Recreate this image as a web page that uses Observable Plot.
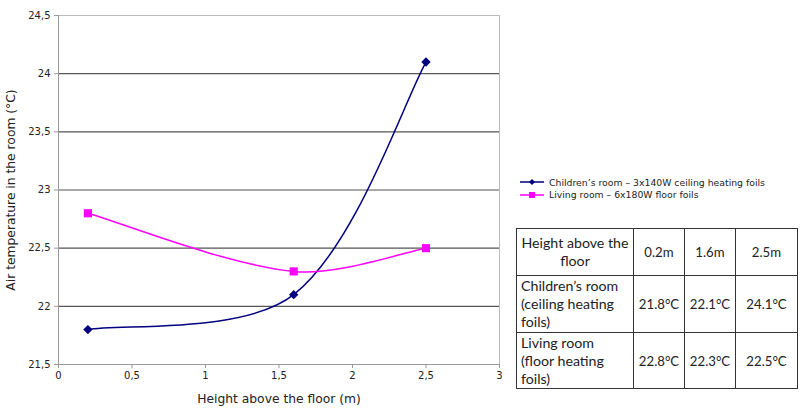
<!DOCTYPE html>
<html>
<head>
<meta charset="utf-8">
<script src="https://cdn.jsdelivr.net/npm/d3@7"></script>
<script src="https://cdn.jsdelivr.net/npm/@observablehq/plot@0.6"></script>
<style>
  body { margin: 0; background: #fff; width: 800px; height: 414px; overflow: hidden; position: relative; font-family: "DejaVu Sans", Verdana, sans-serif; }
  #chart { position: absolute; left: 0; top: 0; }
  #legend { position: absolute; left: 520px; top: 176px; font-family: "DejaVu Sans", Verdana, sans-serif; font-size: 9.3px; color: #222; }
  #legend .row { display: flex; align-items: center; height: 12.5px; }
  #legend svg { margin-right: 5px; }
  #tbl { position: absolute; left: 516px; top: 228px; border-collapse: collapse; font-family: Lato, "Open Sans", sans-serif; font-size: 14.2px; color: #222; table-layout: fixed; }
  #tbl td { border: 1.5px solid #333; padding: 0 4px; line-height: 18px; white-space: pre-line; }
  #tbl td.num { text-align: center; padding: 0; white-space: nowrap; font-size: 13.2px; }
</style>
</head>
<body>
<div id="chart"></div>
<div id="legend"></div>
<table id="tbl"></table>
<script>
const heights = [0.2, 1.6, 2.5];
const childrenTemps = [21.8, 22.1, 24.1];
const livingTemps = [22.8, 22.3, 22.5];
const seriesNames = ["Children’s room – 3x140W ceiling heating foils", "Living room – 6x180W floor foils"];
const seriesColors = ["#000080", "#ff00ff"];
const xTicks = [0, 0.5, 1, 1.5, 2, 2.5, 3];
const yTicks = [21.5, 22, 22.5, 23, 23.5, 24, 24.5];
const gridTicks = [22, 22.5, 23, 23.5, 24];
const tableHeader = ["Height above the\nfloor", "0.2m", "1.6m", "2.5m"];
const tableRows = [
  ["Children’s room\n(ceiling heating\nfoils)", "21.8°C", "22.1°C", "24.1°C"],
  ["Living room\n(floor heating\nfoils)", "22.8°C", "22.3°C", "22.5°C"]
];

const children = heights.map((h, i) => ({x: h, y: childrenTemps[i]}));
const living = heights.map((h, i) => ({x: h, y: livingTemps[i]}));
const fmt = d => String(d).replace(".", ",");

// Spreadsheet-style smoothed line: Bezier arms of 1/6 of the neighbour chord,
// scaled at interior points by the relative length of adjoining segments.
function smoothCurve(context) {
  let pts = [];
  const dist = (a, b) => Math.hypot(b[0] - a[0], b[1] - a[1]);
  // arm leaving point i towards i+dir
  function arm(i, dir) {
    const n = pts.length;
    const prev = pts[Math.max(i - 1, 0)], next = pts[Math.min(i + 1, n - 1)];
    let tx = (next[0] - prev[0]) / 6, ty = (next[1] - prev[1]) / 6;
    if (i > 0 && i < n - 1) {
      const dIn = dist(prev, pts[i]), dOut = dist(pts[i], next);
      const s = dir > 0 ? 2 * dOut / (dIn + dOut) : 2 * dIn / (dIn + dOut);
      tx *= s; ty *= s;
    }
    return [pts[i][0] + dir * tx, pts[i][1] + dir * ty];
  }
  return {
    areaStart() {}, areaEnd() {},
    lineStart() { pts = []; },
    point(x, y) { pts.push([+x, +y]); },
    lineEnd() {
      const n = pts.length;
      if (!n) return;
      context.moveTo(pts[0][0], pts[0][1]);
      for (let i = 0; i < n - 1; i++) {
        const c1 = arm(i, 1), c2 = arm(i + 1, -1);
        context.bezierCurveTo(c1[0], c1[1], c2[0], c2[1], pts[i + 1][0], pts[i + 1][1]);
      }
    }
  };
}

const plot = Plot.plot({
  width: 800,
  height: 414,
  marginLeft: 58,
  marginRight: 301,
  marginTop: 15,
  marginBottom: 50,
  style: {fontFamily: "DejaVu Sans, Verdana, sans-serif", fontSize: "10px", color: "#222", background: "#fff"},
  x: {domain: [0, 3]},
  y: {domain: [21.5, 24.5]},
  marks: [
    Plot.ruleY(gridTicks, {stroke: "#555", strokeWidth: 1.2}),
    Plot.ruleY([24.5], {stroke: "#bbb", strokeWidth: 1}),
    Plot.ruleX([3], {stroke: "#bbb", strokeWidth: 1}),
    Plot.ruleX([0], {stroke: "#999", strokeWidth: 1}),
    Plot.ruleY([21.5], {stroke: "#999", strokeWidth: 1}),
    Plot.axisX({ticks: xTicks, tickFormat: fmt, tickSize: 4, stroke: "#999", tickPadding: 3, label: "Height above the floor (m)", labelAnchor: "center", labelArrow: "none", labelOffset: 38, fontSize: 10}),
    Plot.axisY({ticks: yTicks, tickFormat: fmt, tickSize: 4, stroke: "#999", tickPadding: 4, label: "Air temperature in the room (°C)", labelAnchor: "center", labelArrow: "none", labelOffset: 52, fontSize: 10}),
    Plot.line(children, {x: "x", y: "y", curve: smoothCurve, stroke: seriesColors[0], strokeWidth: 1.5}),
    Plot.line(living, {x: "x", y: "y", curve: smoothCurve, stroke: seriesColors[1], strokeWidth: 1.5}),
    Plot.dot(children, {x: "x", y: "y", symbol: "diamond2", r: 4.2, fill: seriesColors[0], stroke: "none"}),
    Plot.dot(living, {x: "x", y: "y", symbol: "square", r: 4.6, fill: seriesColors[1], stroke: "none"})
  ]
});
document.getElementById("chart").appendChild(plot);
plot.querySelectorAll("g[aria-label='x-axis label'] text, g[aria-label='y-axis label'] text").forEach(t => t.style.fontSize = "12.3px");

// Legend
const legend = d3.select("#legend");
seriesNames.forEach((name, i) => {
  const row = legend.append("div").attr("class", "row");
  const s = row.append("svg").attr("width", 24).attr("height", 10);
  s.append("line").attr("x1", 0).attr("x2", 24).attr("y1", 5).attr("y2", 5).attr("stroke", seriesColors[i]).attr("stroke-width", 1.5);
  if (i === 0) s.append("path").attr("d", d3.symbol(d3.symbolDiamond2, 22)()).attr("transform", "translate(12,5)").attr("fill", seriesColors[i]);
  else s.append("rect").attr("x", 9).attr("y", 2).attr("width", 6).attr("height", 6).attr("fill", seriesColors[i]);
  row.append("span").text(name);
});

// Table
const tbl = d3.select("#tbl");
const widths = [116, 50, 50, 61];
const hr = tbl.append("tr").style("height", "47px");
tableHeader.forEach((c, j) => hr.append("td").attr("class", j ? "num" : "").style("width", (j ? widths[j] : widths[j] - 8) + "px").style("text-align", "center").text(c));
tableRows.forEach((r, i) => {
  const tr = tbl.append("tr").style("height", i === 0 ? "57px" : "56px");
  r.forEach((c, j) => tr.append("td").attr("class", j ? "num" : "").text(c));
});
</script>
</body>
</html>
